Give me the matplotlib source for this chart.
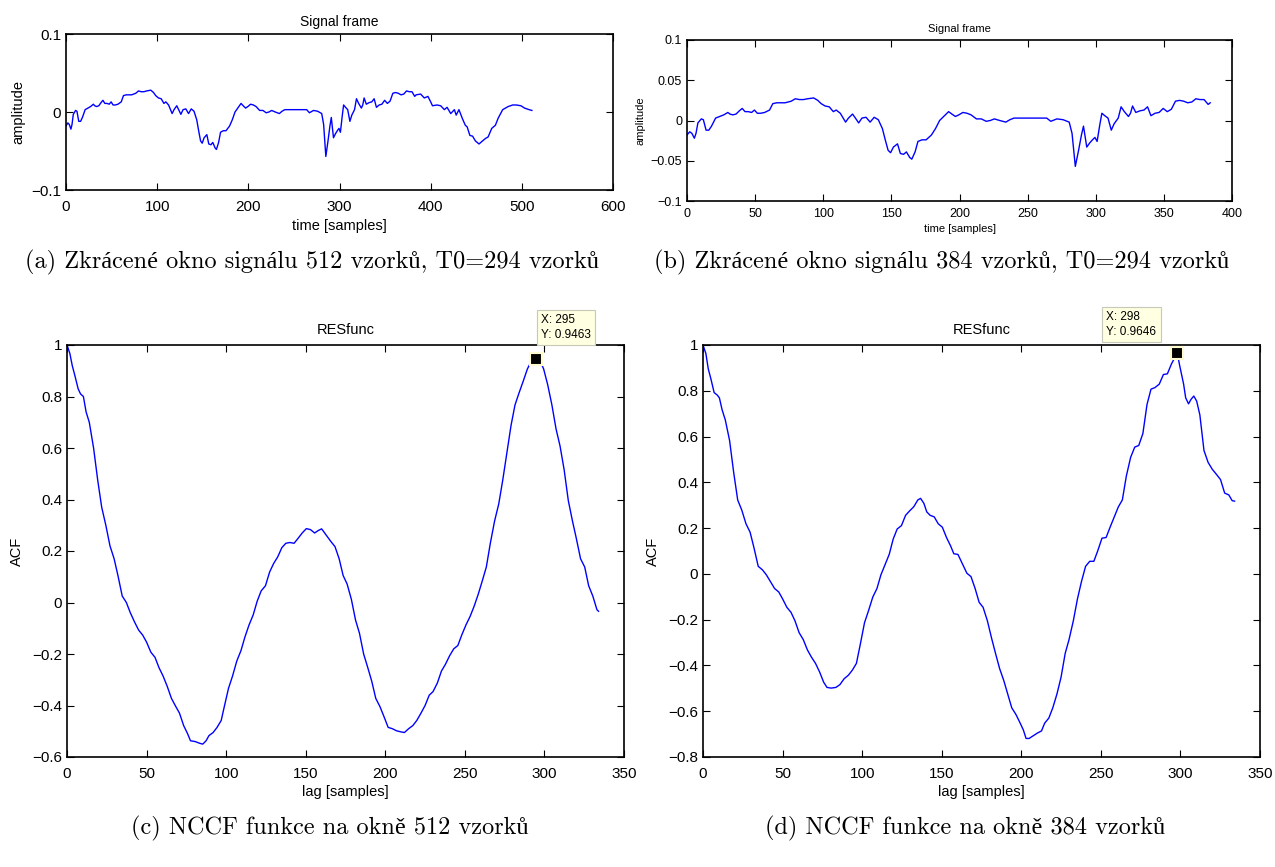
import numpy as np
import matplotlib
matplotlib.use("Agg")
import matplotlib.pyplot as plt

# signal frame (sample index, amplitude)
sig_n = [0, 2, 3.6, 5.4, 6.6, 8, 10.5, 12, 14, 16, 18, 21, 24, 27, 30, 31.5, 33.6, 36, 38.4,
         40.5, 42.6, 45, 47.4, 49.5, 51.6, 54, 57, 60.6, 63, 66, 69, 72, 74.4, 76.5, 79.5,
         82.5, 85.5, 88.5, 93, 96, 98.4, 101.4, 104.4, 107.4, 109.5, 112.5, 116.4, 118.5,
         121.5, 123.6, 126, 128.4, 131.4, 134.4, 137.4, 140.4, 143.4, 145.5, 147.6, 149.4,
         151.5, 154.5, 156.6, 159, 161, 163.5, 165, 167.4, 169.5, 172.5, 175.5, 179.4, 182.4,
         185.4, 189, 192, 194.4, 197, 199.5, 202.5, 205.5, 208.5, 212.4, 216, 219.6, 222.6,
         225.6, 229.5, 234, 237, 240, 246, 252, 258, 264, 267, 271.5, 276, 280.5, 282.6, 285,
         287.4, 289.5, 291, 293.4, 295.5, 297.6, 299.4, 301, 303, 304.5, 306.6, 309, 311.4,
         313.5, 316.5, 318.6, 321, 324, 325.5, 327, 329.4, 332.4, 335.4, 338, 340.5, 343.5,
         346.5, 349.5, 352.5, 355.5, 358.5, 361.5, 364.5, 367.5, 370.5, 373.5, 376.5, 379.5,
         382.5, 384, 389, 393, 397, 400, 402, 407, 411, 415, 418, 422, 426, 428, 431, 435,
         438, 440, 443, 446, 449, 453, 456, 460, 463, 467, 471, 474, 479, 485, 490, 494, 499,
         503, 508, 511]
sig_y = [-0.018, -0.014, -0.016, -0.022, -0.016, -0.003, 0.002, 0.001, -0.012, -0.012, -0.007,
         0.003, 0.005, 0.007, 0.010, 0.008, 0.007, 0.008, 0.012, 0.015, 0.011, 0.011, 0.010,
         0.013, 0.009, 0.009, 0.010, 0.013, 0.021, 0.022, 0.022, 0.022, 0.023, 0.024, 0.027,
         0.026, 0.026, 0.027, 0.028, 0.025, 0.021, 0.018, 0.017, 0.011, 0.013, 0.009, -0.002,
         0.003, 0.008, 0.003, -0.003, 0.003, 0.004, -0.002, 0.004, 0.001, -0.010, -0.024,
         -0.037, -0.040, -0.033, -0.029, -0.041, -0.042, -0.039, -0.046, -0.048, -0.039,
         -0.026, -0.024, -0.024, -0.018, -0.010, 0.000, 0.006, 0.011, 0.008, 0.005, 0.007,
         0.010, 0.009, 0.007, 0.002, 0.002, -0.001, 0.000, 0.002, 0.000, -0.002, 0.001, 0.003,
         0.003, 0.003, 0.003, 0.003, -0.001, 0.002, 0.001, -0.002, -0.016, -0.057, -0.037,
         -0.018, -0.007, -0.033, -0.028, -0.024, -0.021, -0.026, -0.005, 0.009, 0.006, 0.003,
         -0.012, -0.004, 0.003, 0.017, 0.011, 0.005, 0.009, 0.018, 0.010, 0.012, 0.013, 0.017,
         0.006, 0.009, 0.010, 0.015, 0.011, 0.014, 0.024, 0.025, 0.024, 0.022, 0.023, 0.027,
         0.026, 0.026, 0.020, 0.022, 0.023, 0.018, 0.020, 0.013, 0.008, 0.009, 0.008, 0.003,
         0.006, -0.002, 0.003, -0.004, 0.003, -0.009, -0.017, -0.019, -0.030, -0.031, -0.037,
         -0.041, -0.038, -0.034, -0.032, -0.021, -0.017, -0.008, 0.003, 0.007, 0.009, 0.009,
         0.008, 0.005, 0.003, 0.002]

# NCCF on 512-sample window (lag, value)
acf512_lag = [0, 1.8, 3.3, 5, 7, 8.5, 10.3, 12, 14, 16.7, 19.3, 21.8, 24.4, 27, 29.6, 32, 34.7,
              37.3, 39.8, 42.4, 45, 47.6, 50, 52.7, 55.3, 57.8, 60.4, 63, 65.6, 68, 70.7, 73.3,
              75.8, 77.6, 80.5, 83.5, 85.3, 87.4, 89.2, 91.8, 94.3, 96.9, 99, 101.5, 104, 106.7,
              109.3, 111.8, 114.4, 117, 119.5, 122, 124.7, 127.3, 129.8, 132.4, 135, 137.5, 140,
              142.7, 145.3, 147.8, 150.4, 153, 155.6, 158, 160, 162.7, 165.8, 168.4, 171, 173.5,
              176, 178.7, 181.3, 183.8, 186.4, 189, 191.5, 194, 196.7, 199.3, 201.8, 204.4, 207,
              209.5, 212, 214.7, 217.3, 219.8, 222.4, 225, 227.6, 230, 232.7, 235.3, 237.8, 240.4,
              243, 245.6, 248, 250.7, 253.3, 255.8, 258.4, 261, 263.5, 266, 268.7, 271.3, 273.8,
              276.4, 279, 281.5, 284, 286.7, 289.3, 291.8, 295, 297, 299.5, 302, 304.7, 307.3,
              309.8, 312.4, 315, 317.6, 320, 322.7, 325.3, 327.8, 330.4, 333, 334]
acf512_val = [1.0, 0.967, 0.92, 0.88, 0.83, 0.81, 0.80, 0.74, 0.70, 0.60, 0.475, 0.37, 0.30,
              0.22, 0.17, 0.105, 0.025, 0.0, -0.04, -0.075, -0.107, -0.127, -0.154, -0.193,
              -0.213, -0.253, -0.286, -0.326, -0.372, -0.40, -0.43, -0.478, -0.51, -0.537, -0.54,
              -0.547, -0.55, -0.537, -0.517, -0.505, -0.485, -0.458, -0.40, -0.333, -0.286,
              -0.227, -0.187, -0.134, -0.087, -0.048, 0.005, 0.045, 0.065, 0.118, 0.151, 0.177,
              0.213, 0.23, 0.233, 0.23, 0.25, 0.27, 0.287, 0.283, 0.27, 0.28, 0.286, 0.263, 0.237,
              0.217, 0.17, 0.105, 0.072, 0.012, -0.068, -0.12, -0.2, -0.253, -0.306, -0.372,
              -0.405, -0.445, -0.485, -0.49, -0.498, -0.502, -0.505, -0.49, -0.478, -0.458, -0.43,
              -0.40, -0.36, -0.346, -0.313, -0.266, -0.24, -0.207, -0.18, -0.167, -0.127, -0.087,
              -0.054, -0.015, 0.032, 0.085, 0.138, 0.23, 0.317, 0.383, 0.475, 0.58, 0.687, 0.767,
              0.813, 0.86, 0.907, 0.938, 0.9463, 0.942, 0.907, 0.847, 0.767, 0.674, 0.608, 0.515,
              0.396, 0.317, 0.25, 0.17, 0.138, 0.065, 0.025, -0.028, -0.034]

# NCCF on 384-sample window
acf384_lag = [0, 1.8, 3.3, 5, 7, 9, 10.3, 12, 14, 16.7, 19.3, 21.8, 24.4, 27, 29.6, 32, 34.7,
              37.3, 39.8, 42.4, 45, 47.6, 50, 52.7, 55.3, 57.8, 60.4, 63, 65.6, 68, 70.7, 73.3,
              75.8, 77.9, 80.5, 83.5, 86, 88.7, 91.3, 93.8, 96.4, 99, 101.5, 104, 106.7, 109.3,
              111.8, 114.4, 117, 119.5, 122, 124.7, 127.3, 129.8, 132.4, 135, 136.7, 138.8, 140.6,
              142.7, 145.3, 147.8, 150.4, 153, 155.6, 157.6, 160.2, 163.3, 165.8, 168.4, 171,
              173.5, 176, 178.7, 181.3, 183.8, 186.4, 189, 191.5, 194, 196.7, 199.3, 201.3, 203,
              204.9, 207.5, 210, 212.7, 214.7, 217.3, 219.8, 222.4, 225, 227.6, 230, 232.7, 235.3,
              237.8, 240.4, 243, 245.6, 248, 250.7, 253.3, 255.8, 258.4, 261, 263.5, 266, 268.7,
              271.3, 273.8, 276.4, 279, 281.5, 284, 286.7, 289.3, 291.8, 294.4, 298, 299.5, 302,
              303.3, 305.1, 306.6, 308.4, 310.2, 312.2, 314.8, 317.4, 320, 322.6, 325.2, 327.8,
              330.4, 332.5, 334]
acf384_val = [1.0, 0.963, 0.896, 0.851, 0.792, 0.781, 0.769, 0.717, 0.673, 0.583, 0.442, 0.323,
              0.278, 0.219, 0.182, 0.115, 0.033, 0.018, -0.004, -0.034, -0.064, -0.079, -0.109,
              -0.146, -0.168, -0.205, -0.257, -0.287, -0.332, -0.362, -0.391, -0.429, -0.473,
              -0.496, -0.499, -0.496, -0.484, -0.458, -0.443, -0.421, -0.391, -0.302, -0.213,
              -0.161, -0.101, -0.064, -0.004, 0.04, 0.085, 0.152, 0.196, 0.211, 0.256, 0.275,
              0.293, 0.323, 0.33, 0.308, 0.271, 0.256, 0.249, 0.219, 0.204, 0.159, 0.122, 0.088,
              0.085, 0.04, 0.003, -0.012, -0.064, -0.124, -0.146, -0.205, -0.28, -0.347, -0.414,
              -0.466, -0.525, -0.585, -0.615, -0.652, -0.682, -0.719, -0.719, -0.707, -0.696,
              -0.686, -0.652, -0.63, -0.585, -0.525, -0.451, -0.347, -0.287, -0.205, -0.109,
              -0.034, 0.033, 0.055, 0.055, 0.1, 0.156, 0.159, 0.204, 0.249, 0.293, 0.323, 0.427,
              0.509, 0.554, 0.561, 0.613, 0.74, 0.807, 0.814, 0.829, 0.871, 0.874, 0.918, 0.9646,
              0.911, 0.829, 0.769, 0.743, 0.762, 0.777, 0.755, 0.695, 0.539, 0.487, 0.457, 0.435,
              0.412, 0.353, 0.345, 0.32, 0.318]

# data tips
tip512 = (295, 0.9463)
tip384 = (298, 0.9646)

captions = ["(a) Zkrácené okno signálu 512 vzorků, T0=294 vzorků",
            "(b) Zkrácené okno signálu 384 vzorků, T0=294 vzorků",
            "(c) NCCF funkce na okně 512 vzorků",
            "(d) NCCF funkce na okně 384 vzorků"]

plt.rcParams['font.family'] = ['Liberation Sans', 'DejaVu Sans']
W, H = 1275, 867
fig = plt.figure(figsize=(W / 100, H / 100), dpi=100)


def box(l, t, r, b):
    return [l / W, 1 - b / H, (r - l) / W, (b - t) / H]


def style(ax, fs, pad):
    ax.tick_params(direction='in', top=True, right=True, labelsize=fs, length=5, width=0.8)
    ax.tick_params(axis='x', pad=pad)
    for s in ax.spines.values():
        s.set_linewidth(1.2)


sig_n = np.array(sig_n)
sig_y = np.array(sig_y)

# (a)
ax = fig.add_axes(box(66, 34, 613, 190))
ax.plot(sig_n, sig_y, color='blue', lw=1)
ax.set_xlim(0, 600)
ax.set_ylim(-0.1, 0.1)
ax.set_xticks(range(0, 601, 100))
ax.set_yticks([-0.1, 0, 0.1])
ax.set_yticklabels(['\u22120.1', '0', '0.1'])
style(ax, 11, 7)
ax.set_title('Signal frame', fontsize=10, pad=6)
ax.set_xlabel('time [samples]', fontsize=10.5, labelpad=4)
ax.set_ylabel('amplitude', fontsize=10.5, labelpad=4)

# (b)
ax = fig.add_axes(box(687, 40, 1232, 201))
m = sig_n <= 384
ax.plot(sig_n[m], sig_y[m], color='blue', lw=1)
ax.set_xlim(0, 400)
ax.set_ylim(-0.1, 0.1)
ax.set_xticks(range(0, 401, 50))
ax.set_yticks([-0.1, -0.05, 0, 0.05, 0.1])
ax.set_yticklabels(['\u22120.1', '\u22120.05', '0', '0.05', '0.1'])
style(ax, 9, 5)
ax.set_title('Signal frame', fontsize=8, pad=6)
ax.set_xlabel('time [samples]', fontsize=8, labelpad=3)
ax.set_ylabel('amplitude', fontsize=8, labelpad=4)

# (c), (d)
for l, r, lags, vals, tip, ylo, off, ha in [
        (67, 624, acf512_lag, acf512_val, tip512, -0.6, (3, 13), 'left'),
        (703, 1260, acf384_lag, acf384_val, tip384, -0.8, (-15, 11), 'right')]:
    ax = fig.add_axes(box(l, 345, r, 757))
    ax.plot(lags, vals, color='blue', lw=1)
    ax.set_xlim(0, 350)
    ax.set_ylim(ylo, 1)
    ax.set_xticks(range(0, 351, 50))
    yt = np.round(np.arange(ylo, 1.001, 0.2), 1)
    ax.set_yticks(yt)
    ax.set_yticklabels([('\u2212' if v < 0 else '') + ('%g' % abs(v)) for v in yt])
    style(ax, 11, 7)
    ax.set_title('RESfunc', fontsize=10.5, pad=8)
    ax.set_xlabel('lag [samples]', fontsize=10.5, labelpad=3)
    ax.set_ylabel('ACF', fontsize=10.5, labelpad=6)
    ax.plot([tip[0]], [tip[1]], 's', color='black', markersize=8,
            markeredgecolor='#fffbd0', markeredgewidth=1.5, zorder=5, clip_on=False)
    ax.annotate('X: %d\nY: %.4f' % tip, xy=tip, xytext=off, textcoords='offset points',
                ha=ha, va='bottom', multialignment='left', fontsize=8.5, linespacing=1.3,
                zorder=6,
                bbox=dict(boxstyle='square,pad=0.35', fc='#ffffe1', ec='#c8c8b8', lw=0.8),
                annotation_clip=False)

# captions
cap_pos = [(312, 262), (942, 262), (330, 828), (965, 828)]
for (x, y), c in zip(cap_pos, captions):
    fig.text(x / W, 1 - y / H, c, ha='center', va='center', fontsize=17.5,
             family=['cmr10', 'Liberation Serif'])

fig.savefig('out.png', dpi=100)
